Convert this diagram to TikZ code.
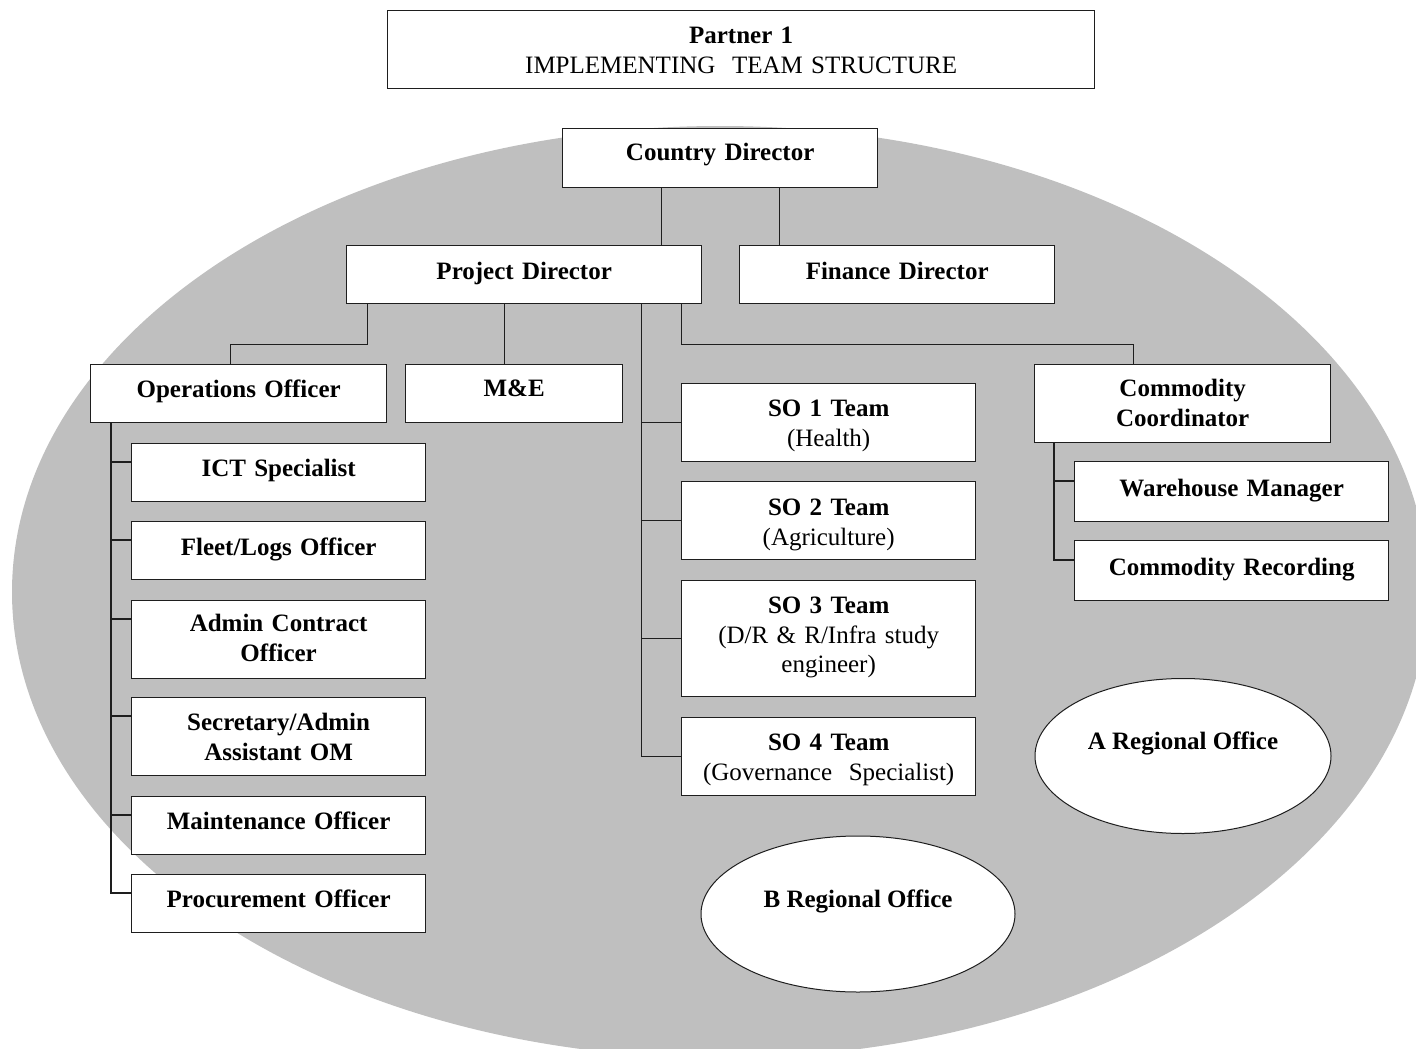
\documentclass[tikz,border=0pt]{standalone}
\usepackage{fontspec}
\setmainfont{Liberation Serif}
\usetikzlibrary{shapes.geometric}
\definecolor{ellgray}{RGB}{191,191,191}
\definecolor{linecol}{RGB}{30,30,30}
\begin{document}
\begin{tikzpicture}[x=1pt,y=-1pt,
  box/.style n args={3}{draw=linecol, line width=1.3pt, fill=white, inner sep=0pt,
    text width=#1pt, align=center, text height=#2pt, text depth=#3pt, anchor=north west,
    font=\fontsize{25pt}{29.5pt}\selectfont\bfseries},
  oval/.style={ellipse, draw=linecol, line width=1pt, fill=white, inner sep=0pt,
    text height=10pt, text depth=24pt, font=\fontsize{25pt}{29.5pt}\selectfont\bfseries},
  conn/.style={draw=linecol, line width=1.3pt}]
\useasboundingbox (0,0) rectangle (1416,1049);
\fill[ellgray] (720,592) ellipse [x radius=708pt, y radius=466pt];

\node[box={707}{33}{45}] (title) at (387,10) {Partner 1\\\mdseries IMPLEMENTING\ \ TEAM STRUCTURE};
\node[box={315}{32}{27}] (cd) at (562,128) {Country Director};
\node[box={355}{34}{24}] (pd) at (346,245) {Project Director};
\node[box={315}{34}{24}] (fd) at (739,245) {Finance Director};
\node[box={296}{33}{25}] (ops) at (90,364) {Operations Officer};
\node[box={217}{32}{26}] (me) at (405,364) {M\&E};
\node[box={294}{33}{45}] (so1) at (681,383) {SO 1 Team\\\mdseries(Health)};
\node[box={294}{34}{44}] (so2) at (681,481) {SO 2 Team\\\mdseries(Agriculture)};
\node[box={294}{33}{83}] (so3) at (681,580) {SO 3 Team\\\mdseries(D/R \& R/Infra study\\engineer)};
\node[box={294}{33}{45}] (so4) at (681,717) {SO 4 Team\\\mdseries(Governance\ \ Specialist)};
\node[box={296}{32}{46}] (cc) at (1034,364) {Commodity\\Coordinator};
\node[box={314}{35}{25}] (wm) at (1074,461) {Warehouse Manager};
\node[box={314}{35}{25}] (cr) at (1074,540) {Commodity Recording};
\node[box={294}{33}{25}] (ict) at (131,443) {ICT Specialist};
\node[box={294}{34}{24}] (fleet) at (131,521) {Fleet/Logs Officer};
\node[box={294}{31}{47}] (admin) at (131,600) {Admin Contract\\Officer};
\node[box={294}{33}{45}] (sec) at (131,697) {Secretary/Admin\\Assistant OM};
\node[box={294}{33}{25}] (maint) at (131,796) {Maintenance Officer};
\node[box={294}{33}{25}] (proc) at (131,874) {Procurement Officer};

\node[oval, minimum width=296pt, minimum height=155pt] (ra) at (1183,756) {A Regional Office};
\node[oval, minimum width=314pt, minimum height=156pt] (rb) at (858,914) {B Regional Office};

% Country Director
\coordinate (c1) at ([xshift=-58.5pt]cd.south);
\coordinate (c2) at ([xshift=59.5pt]cd.south);
\draw[conn] (c1) -- (c1 |- pd.north);
\draw[conn] (c2) -- (c2 |- fd.north);
% Project Director
\coordinate (p1) at ([xshift=-156.5pt]pd.south);
\coordinate (p2) at ([xshift=-19.5pt]pd.south);
\coordinate (p3) at ([xshift=117.5pt]pd.south);
\coordinate (p4) at ([xshift=157.5pt]pd.south);
\draw[conn] (p1) -- ++(0,40) -| ([xshift=-8pt]ops.north);
\draw[conn] (p2) -- (p2 |- me.north);
\draw[conn] (p4) -- ++(0,40) -| ([xshift=-49pt]cc.north);
\foreach \n in {so1,so2,so3,so4} \draw[conn] (p3) |- (\n.west);
% Operations Officer
\coordinate (o1) at ([xshift=21pt]ops.south west);
\foreach \n in {ict,fleet,admin,sec,maint,proc} \draw[conn] (o1) |- ([yshift=-19pt]\n.north west);
% Commodity Coordinator
\coordinate (k1) at ([xshift=20pt]cc.south west);
\foreach \n in {wm,cr} \draw[conn] (k1) |- ([yshift=-20pt]\n.north west);
\end{tikzpicture}
\end{document}
